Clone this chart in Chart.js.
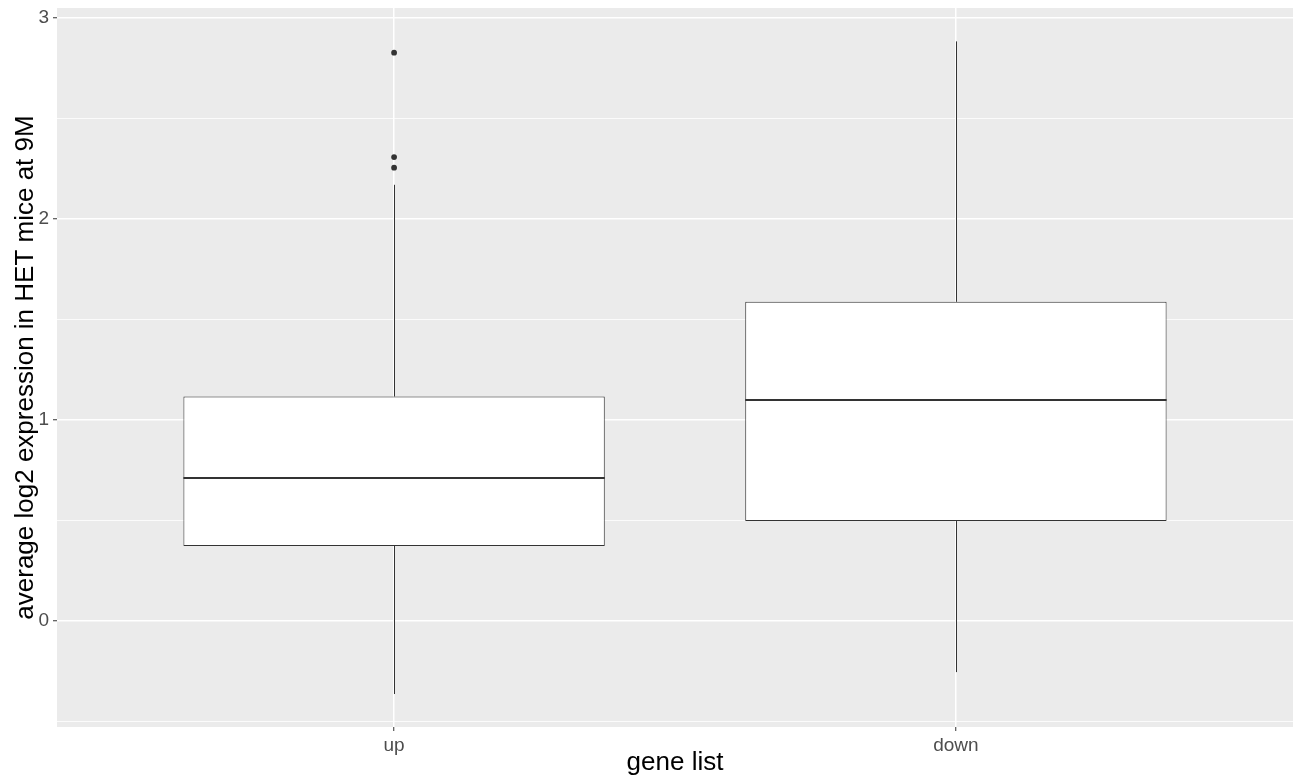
<!DOCTYPE html>
<html>
<head>
<meta charset="utf-8">
<script src="https://cdn.jsdelivr.net/npm/chart.js@4/dist/chart.umd.min.js"></script>
<style>
  html, body { margin: 0; padding: 0; background: #ffffff; }
  canvas { display: block; }
</style>
</head>
<body>
<canvas id="boxChart" width="1299" height="782"></canvas>
<script>
// data
const categories = ["up", "down"];
const lowWhisker = [-0.363, -0.254];
const q1Values = [0.373, 0.497];
const medians = [0.711, 1.099];
const q3Values = [1.116, 1.587];
const highWhisker = [2.169, 2.882];
const outliersUp = [2.826, 2.307, 2.254];
const outliersDown = [];

// axis ticks
const yMajorTicks = [0, 1, 2, 3];
const yMinorTicks = [-0.5, 0.5, 1.5, 2.5];
const yMin = -0.527;
const yMax = 3.048;

const boxWidth = 0.75;
const lineColor = "#333333";

// panel background like ggplot
const panelBg = {
  id: "panelBg",
  beforeDraw(chart) {
    const { ctx, chartArea: a } = chart;
    ctx.save();
    ctx.fillStyle = "#ffffff";
    ctx.fillRect(0, 0, chart.width, chart.height);
    ctx.fillStyle = "#EBEBEB";
    ctx.fillRect(a.left, a.top, a.right - a.left, a.bottom - a.top);
    ctx.restore();
  }
};

// whiskers and median lines, drawn through the scales
const boxExtras = {
  id: "boxExtras",
  afterDatasetsDraw(chart) {
    const { ctx, scales: { x, y } } = chart;
    ctx.save();
    ctx.strokeStyle = lineColor;
    categories.forEach((c, i) => {
      const cx = Math.round(x.getPixelForValue(i + 1)) + 0.5;
      ctx.lineWidth = 1;
      ctx.beginPath();
      ctx.moveTo(cx, y.getPixelForValue(q3Values[i]));
      ctx.lineTo(cx, y.getPixelForValue(highWhisker[i]));
      ctx.moveTo(cx, y.getPixelForValue(q1Values[i]));
      ctx.lineTo(cx, y.getPixelForValue(lowWhisker[i]));
      ctx.stroke();

      const half = boxWidth / 2;
      ctx.lineWidth = 2;
      ctx.beginPath();
      const my = Math.round(y.getPixelForValue(medians[i]));
      ctx.moveTo(x.getPixelForValue(i + 1 - half), my);
      ctx.lineTo(x.getPixelForValue(i + 1 + half), my);
      ctx.stroke();
    });
    ctx.restore();
  }
};

const boxes = categories.map((c, i) => ({ x: i + 1, y: [q1Values[i], q3Values[i]] }));
const outlierPoints = []
  .concat(outliersUp.map(v => ({ x: 1, y: v })))
  .concat(outliersDown.map(v => ({ x: 2, y: v })));

const isMajor = v => yMajorTicks.includes(v);
const font = "'Liberation Sans', Arial, sans-serif";

new Chart(document.getElementById("boxChart"), {
  type: "bar",
  data: {
    datasets: [
      {
        type: "bar",
        data: boxes,
        backgroundColor: "#ffffff",
        borderColor: lineColor,
        borderWidth: 1,
        borderSkipped: false,
        categoryPercentage: boxWidth,
        barPercentage: 1
      },
      {
        type: "scatter",
        data: outlierPoints,
        pointRadius: 2.9,
        pointBackgroundColor: lineColor,
        pointBorderWidth: 0
      }
    ]
  },
  options: {
    responsive: false,
    animation: false,
    devicePixelRatio: 1,
    layout: { padding: { top: 8, right: 6, left: 0, bottom: 0 } },
    plugins: {
      legend: { display: false },
      tooltip: { enabled: false }
    },
    scales: {
      x: {
        type: "linear",
        offset: false,
        min: 0.4,
        max: 2.6,
        afterBuildTicks: s => { s.ticks = categories.map((c, i) => ({ value: i + 1 })); },
        afterFit: s => { s.height = 55; s.paddingLeft = 0; s.paddingRight = 0; },
        border: { display: false },
        grid: {
          offset: false,
          color: "#ffffff",
          lineWidth: 1.5,
          tickColor: lineColor,
          tickLength: 4,
          tickWidth: 1
        },
        ticks: {
          padding: 3,
          color: "#4D4D4D",
          font: { family: font, size: 19 },
          callback: v => categories[v - 1]
        },
        title: {
          display: true,
          text: "gene list",
          color: "#000000",
          font: { family: font, size: 26 },
          padding: { top: 0, bottom: 4 }
        }
      },
      y: {
        type: "linear",
        min: yMin,
        max: yMax,
        afterBuildTicks: s => {
          s.ticks = yMinorTicks.concat(yMajorTicks).sort((a, b) => a - b).map(v => ({ value: v }));
        },
        afterFit: s => { s.width = 57; s.paddingTop = 0; s.paddingBottom = 0; },
        border: { display: false },
        grid: {
          color: "#ffffff",
          lineWidth: c => isMajor(c.tick.value) ? 1.5 : 0.8,
          tickColor: c => isMajor(c.tick.value) ? lineColor : "rgba(0,0,0,0)",
          tickLength: 4,
          tickWidth: 1
        },
        ticks: {
          padding: 4,
          color: "#4D4D4D",
          font: { family: font, size: 19 },
          callback: v => isMajor(v) ? String(v) : ""
        },
        title: {
          display: true,
          text: "average log2 expression in HET mice at 9M",
          color: "#000000",
          font: { family: font, size: 26 },
          padding: { top: 10, bottom: 0 }
        }
      }
    }
  },
  plugins: [panelBg, boxExtras]
});
</script>
</body>
</html>
